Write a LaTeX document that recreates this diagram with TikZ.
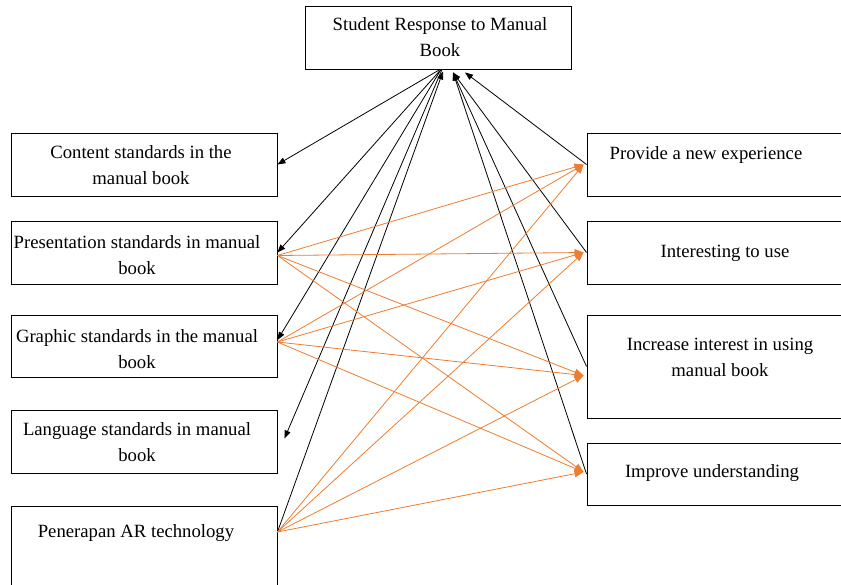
\documentclass[tikz,border=0pt]{standalone}
\usepackage{fontspec}
\setmainfont{Liberation Serif}
\usepackage{tikz}
\usepackage{xcolor}
\usetikzlibrary{arrows.meta}

\definecolor{arrorange}{RGB}{237,125,49}

\begin{document}
\begin{tikzpicture}
  [x=1pt,y=-1pt,
   box/.style={draw,rectangle,inner sep=0pt,line width=0.9pt},
   txt/.style={inner sep=0pt,align=center,font=\fontsize{18.7}{26}\selectfont},
   blk/.style={line width=0.8pt,-{Triangle[length=8pt,width=6pt]}},
   orng/.style={arrorange,line width=0.8pt,-{Triangle[length=9pt,width=7pt]}}]

  \useasboundingbox (0,0) rectangle (841,584);
  \clip (0,0) rectangle (841,584);
  \fill[white] (0,0) rectangle (841,584);

  % boxes
  \node[box,minimum width=266pt,minimum height=63pt] (resp) at (438,37.5) {};
  \node[box,minimum width=266pt,minimum height=63pt] (cont) at (144,164.5) {};
  \node[box,minimum width=266pt,minimum height=63pt] (pres) at (144,252.5) {};
  \node[box,minimum width=266pt,minimum height=62pt] (graph) at (144,346) {};
  \node[box,minimum width=266pt,minimum height=63pt] (lang) at (144,441.5) {};
  \node[box,minimum width=266pt,minimum height=94pt] (pen) at (144,553) {};
  \node[box,minimum width=273pt,minimum height=63pt] (prov) at (723.5,164.5) {};
  \node[box,minimum width=273pt,minimum height=63pt] (inter) at (723.5,252.5) {};
  \node[box,minimum width=273pt,minimum height=103pt] (incr) at (723.5,366.5) {};
  \node[box,minimum width=273pt,minimum height=62pt] (impr) at (723.5,474) {};

  % texts
  \node[txt] (resp-t) at (440,37.5) {Student Response to Manual\\Book};
  \node[txt] (cont-t) at (141,165) {Content standards in the\\manual book};
  \node[txt] (pres-t) at (137,255) {Presentation standards in manual\\book};
  \node[txt] (graph-t) at (137,349) {Graphic standards in the manual\\book};
  \node[txt] (lang-t) at (137,442) {Language standards in manual\\book};
  \node[txt] (pen-t) at (136,533) {Penerapan AR technology};
  \node[txt] (prov-t) at (706,155) {Provide a new experience};
  \node[txt] (inter-t) at (725,253) {Interesting to use};
  \node[txt] (incr-t) at (720,357) {Increase interest in using\\manual book};
  \node[txt] (impr-t) at (712,473) {Improve understanding};

  % black arrows
  \draw[blk] ([xshift=2pt]resp.south) -- (cont.east);
  \draw[blk] ([xshift=3pt]resp.south) -- (pres.east);
  \draw[blk] ([xshift=3pt]resp.south) -- ([yshift=6pt]graph.east);
  \draw[blk] ([xshift=4pt]resp.south) -- ([xshift=7pt,yshift=3pt]lang.east);
  \draw[blk] ([yshift=21pt]pen.east) -- ([xshift=5pt,yshift=-2pt]resp.south);
  \foreach \from in {inter,incr,impr}
    \draw[blk] (\from.west) -- ([xshift=15pt,yshift=-3pt]resp.south);
  \draw[blk] (prov.west) -- ([xshift=27pt,yshift=-3pt]resp.south);

  % orange arrows
  \foreach \from/\fs in {pres/-3,graph/4,pen/21}
    \foreach \to/\ts in {prov/0,inter/0,incr/-9,impr/2}
      \draw[orng] ([yshift=\fs pt]\from.east) -- ([xshift=-3pt,yshift=\ts pt]\to.west);
\end{tikzpicture}
\end{document}
